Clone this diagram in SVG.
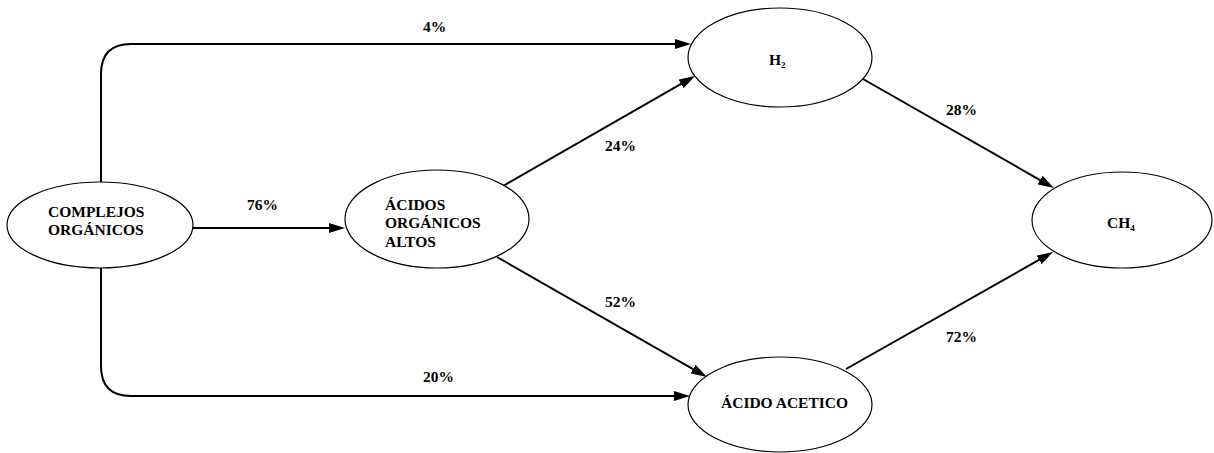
<svg xmlns="http://www.w3.org/2000/svg" width="1214" height="453" viewBox="0 0 1214 453">
<style>
  .node { fill: #ffffff; stroke: #000000; stroke-width: 1.2; }
  .edge { fill: none; stroke: #000000; stroke-width: 2; }
  text { font-family: "Liberation Serif", "Times New Roman", serif; font-weight: bold; font-size: 15.5px; fill: #000000; }
  .sub { font-size: 9px; }
</style>
<defs>
  <marker id="arrow" markerUnits="userSpaceOnUse" markerWidth="17" markerHeight="11" refX="8" refY="5" orient="auto">
    <polygon points="0,0 16,5 0,10" fill="#000000"/>
  </marker>
</defs>
<rect width="1214" height="453" fill="#ffffff"/>
<g id="connectors">
  <path class="edge" d="M101,182 V74 Q101,44 131,44 H683" marker-end="url(#arrow)"/>
  <path class="edge" d="M101,268 V366 Q101,396 131,396 H682" marker-end="url(#arrow)"/>
  <path class="edge" d="M193,228 H337" marker-end="url(#arrow)"/>
  <path class="edge" d="M503,186 L688.06,79.98" marker-end="url(#arrow)"/>
  <path class="edge" d="M497,257 L700.05,373.03" marker-end="url(#arrow)"/>
  <path class="edge" d="M863,79 L1047.05,184.03" marker-end="url(#arrow)"/>
  <path class="edge" d="M846,369 L1046.04,255.94" marker-end="url(#arrow)"/>
  <text x="423" y="32">4%</text>
  <text x="423" y="382">20%</text>
  <text x="247" y="210">76%</text>
  <text x="605" y="151">24%</text>
  <text x="605" y="307">52%</text>
  <text x="946" y="115">28%</text>
  <text x="946" y="342">72%</text>
</g>
<g id="complejos">
  <ellipse class="node" cx="100" cy="225" rx="93" ry="43"/>
  <text x="48" y="217">COMPLEJOS</text>
  <text x="48" y="235">ORGÁNICOS</text>
</g>
<g id="acidos">
  <ellipse class="node" cx="437" cy="219" rx="92" ry="49"/>
  <text x="385" y="210">ÁCIDOS</text>
  <text x="385" y="228">ORGÁNICOS</text>
  <text x="385" y="247">ALTOS</text>
</g>
<g id="h2">
  <ellipse class="node" cx="780" cy="57.5" rx="92" ry="49.5"/>
  <text x="769" y="65">H<tspan class="sub" dy="3">2</tspan></text>
</g>
<g id="acetico">
  <ellipse class="node" cx="780" cy="404.5" rx="92" ry="47.5"/>
  <text x="721" y="408">ÁCIDO ACETICO</text>
</g>
<g id="ch4">
  <ellipse class="node" cx="1122" cy="220" rx="90" ry="48"/>
  <text x="1107" y="228">CH<tspan class="sub" dy="3">4</tspan></text>
</g>
</svg>
